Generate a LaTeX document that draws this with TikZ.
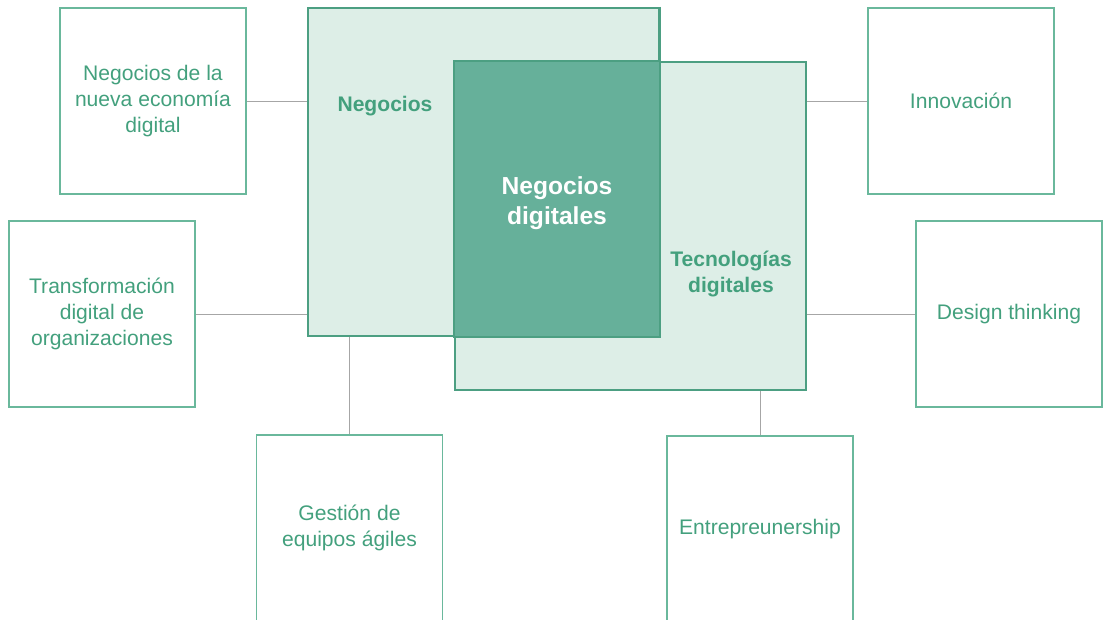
\documentclass[tikz,border=0pt]{standalone}
\usepackage{fontspec}
\setmainfont{Liberation Sans}
\usepackage{tikz}

\definecolor{verde}{HTML}{43A07D}
\definecolor{bordeclaro}{HTML}{6AB89C}
\definecolor{bordefuerte}{HTML}{4C9F82}
\definecolor{fondoclaro}{HTML}{DDEEE7}
\definecolor{fondofuerte}{HTML}{66B09A}
\definecolor{gris}{HTML}{A6A6A6}

\tikzset{
  tema/.style={draw=bordeclaro, line width=1.1pt, minimum width=4.65cm, minimum height=4.65cm,
    align=center, text=verde, inner sep=0pt, font=\fontsize{15}{18.2}\selectfont},
  campo/.style={draw=bordefuerte, fill=fondoclaro, line width=1.4pt, minimum width=8.775cm,
    minimum height=8.2cm, inner sep=0pt},
  rotulo/.style={align=center, text=verde, font=\bfseries\fontsize{15}{18.5}\selectfont},
  enlace/.style={draw=gris, line width=0.7pt}
}

\begin{document}
\begin{tikzpicture}[x=0.025cm, y=-0.025cm]
  \useasboundingbox (0,0) rectangle (1106,620);
  \clip (0,0) rectangle (1106,619);

  % los dos campos y su cruce
  \node[campo] (neg) at (483.5,172) {};
  \node[campo] (tec) at (630.5,226) {};
  \filldraw[fill=fondofuerte, draw=bordefuerte, line width=1.4pt] (tec.north west) rectangle (neg.south east);
  \draw[bordefuerte, line width=1.4pt] (neg.north east) -- (neg.south east);

  \node[rotulo] (rneg) at (385,106) {Negocios};
  \node[rotulo, text=white, font=\bfseries\fontsize{17.5}{21.5}\selectfont] (rcruce) at (557,203) {Negocios\\digitales};
  \node[rotulo] (rtec) at (731,274) {Tecnologías\\digitales};

  % temas alrededor
  \node[tema] (nuevaeco) at (153,101) {Negocios de la\\nueva economía\\digital};
  \node[tema] (transfo) at (102,314) {Transformación\\digital de\\organizaciones};
  \node[tema] (gestion) at (349.5,528) {Gestión de\\equipos ágiles};
  \node[tema] (innova) at (961,101) {Innovación};
  \node[tema] (design) at (1009,314) {Design thinking};
  \node[tema] (emprende) at (760,529) {Entrepreunership};

  % enlaces
  \draw[enlace] (nuevaeco.east) -- (nuevaeco.east -| neg.west);
  \draw[enlace] (transfo.east) -- (transfo.east -| neg.west);
  \draw[enlace] (gestion.north) -- (gestion.north |- neg.south);
  \draw[enlace] (innova.west) -- (innova.west -| tec.east);
  \draw[enlace] (design.west) -- (design.west -| tec.east);
  \draw[enlace] (emprende.north) -- (emprende.north |- tec.south);
\end{tikzpicture}
\end{document}
